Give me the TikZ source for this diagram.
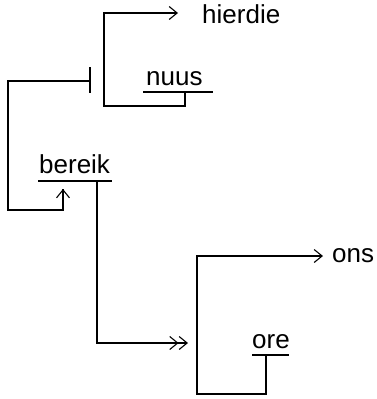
\documentclass[tikz,border=0pt]{standalone}
\usepackage{fontspec}
\setmainfont{Liberation Sans}
\usetikzlibrary{arrows.meta}
\begin{document}
\begin{tikzpicture}[x=1pt,y=-1pt,
  ln/.style={line width=1.1pt},
  lbl/.style={inner sep=0pt,anchor=base west,font=\fontsize{26}{30}\selectfont},
  barb/.style={-{Straight Barb[length=8pt,width=13pt,line width=1.1pt]}},
  dbarb/.style={-{Straight Barb[length=8pt,width=13pt,line width=1.1pt]Straight Barb[length=8pt,width=13pt,line width=1.1pt]}}]
\useasboundingbox (0,0) rectangle (376,399);
% text nodes
\node[lbl] (hierdie) at (202,23) {hierdie};
\node[lbl] (nuus) at (146,85) {nuus};
\node[lbl] (bereik) at (39,173) {bereik};
\node[lbl] (ons) at (332,262) {ons};
\node[lbl] (ore) at (252,348) {ore};
% coordinates
\coordinate (nuusL) at (143,92);
\coordinate (nuusR) at (213,92);
\coordinate (nuusS) at (185,92);
\coordinate (topL) at (104,13);
\coordinate (botL) at (104,106);
\coordinate (botR) at (185,106);
\coordinate (tipH) at (178,13);
\coordinate (barT) at (90,67);
\coordinate (barB) at (90,93);
\coordinate (barM) at (90,81);
\coordinate (lT) at (8,81);
\coordinate (lB) at (8,210);
\coordinate (upB) at (63,210);
\coordinate (upT) at (63,189);
\coordinate (berL) at (38,181);
\coordinate (berR) at (112,181);
\coordinate (berS) at (97,181);
\coordinate (berB) at (97,343);
\coordinate (tipD) at (188,343);
\coordinate (rT) at (197,256);
\coordinate (rB) at (197,394);
\coordinate (tipO) at (323,256);
\coordinate (oreB) at (266,394);
\coordinate (oreS) at (266,355);
\coordinate (oreL) at (252,355);
\coordinate (oreR) at (289,355);
% upper structure
\draw[ln] (nuusL) -- (nuusR);
\draw[ln,barb] (nuusS) -- (botR) -- (botL) -- (topL) -- (tipH);
\draw[ln] (barT) -- (barB);
\draw[ln] (barM) -- (lT) -- (lB) -- (upB) -- (upT);
\draw[ln,barb] (upB) -- (upT);
% bereik
\draw[ln] (berL) -- (berR);
\draw[ln,dbarb] (berS) -- (berB) -- (tipD);
% lower structure
\draw[ln] (oreL) -- (oreR);
\draw[ln,barb] (oreS) -- (oreB) -- (rB) -- (rT) -- (tipO);
\end{tikzpicture}
\end{document}
